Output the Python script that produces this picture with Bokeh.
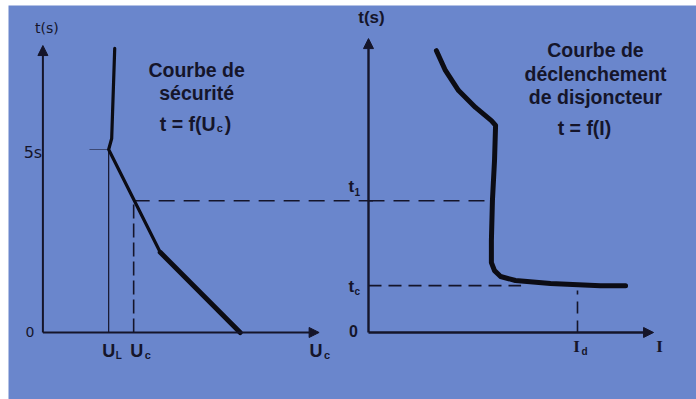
from bokeh.plotting import figure
from bokeh.models import Arrow, NormalHead, Label, Range1d
from bokeh.embed import file_html
from bokeh.resources import INLINE

# ---------------- data ----------------
# Left panel: safety curve t = f(Uc)
U_L = 50.0          # conventional limit voltage
U_C = 69.0          # contact voltage
T_5S = 5.0          # 5 s
T1 = 3.6            # time read on the safety curve for Uc
safety_u = [54.6, 52.3, 50.0, 89.2, 150.0]
safety_t = [7.76, 5.30, 5.00, 2.19, 0.0]

# Right panel: breaker tripping curve t = f(I)
TC = 1.28           # breaker clearing time
I_D = 10.0          # fault current
I_T1 = 5.9          # current where t1 meets the tripping curve
trip_i = [3.25, 3.68, 4.31, 5.12, 5.88, 6.08, 6.03, 5.93, 5.88, 5.88, 6.03, 6.32, 7.03, 8.71, 11.1, 12.3]
trip_t = [7.70, 7.16, 6.61, 6.15, 5.79, 5.66, 4.70, 3.61, 2.51, 1.91, 1.69, 1.53, 1.42, 1.34, 1.28, 1.28]

U_AXIS_END = 210.0
I_AXIS_END = 13.64
T_AXIS_END_L = 7.84
T_AXIS_END_R = 8.03

left_title = ["Courbe de", "sécurité"]
right_title = ["Courbe de", "déclenchement", "de disjoncteur"]

# ---------------- style ----------------
BG = "#6a86cc"
INK = "#15152a"
CURVE = "#0c0c14"
FONT = "DejaVu Sans"
BOLD = "Liberation Sans"
TS = 19.5

p = figure(width=696, height=399,
           x_range=Range1d(-26.154, 496.92), y_range=Range1d(-1.8306, 8.934),
           x_axis_type=None, y_axis_type=None, output_backend="svg",
           toolbar_location=None, min_border=0,
           min_border_left=8, min_border_top=5)
p.extra_x_ranges = {"i": Range1d(-17.225, 15.694)}
p.grid.visible = False
p.outline_line_color = None
p.background_fill_color = BG
p.border_fill_color = "white"


def lab(x, y, text, size, font=BOLD, align="center", baseline="middle",
        xo=0, yo=0, style="bold", rng="default"):
    p.add_layout(Label(x=x, y=y, text=text, text_font=font,
                       text_font_size=f"{size}px", text_align=align,
                       text_baseline=baseline, x_offset=xo, y_offset=yo,
                       text_color=INK, text_font_style=style, x_range_name=rng))


def axis_arrow(x0, y0, x1, y1, lw, rng="default"):
    p.add_layout(Arrow(end=NormalHead(size=10, fill_color=INK, line_color=INK, line_width=1),
                       x_start=x0, y_start=y0, x_end=x1, y_end=y1,
                       line_color=INK, line_width=lw, x_range_name=rng))


# ---------------- left panel ----------------
axis_arrow(0, 0, 0, T_AXIS_END_L, 2)
axis_arrow(0, 0, U_AXIS_END, 0, 2)

p.line([U_L, U_L], [0, T_5S], line_color=INK, line_width=1.2)
p.line([U_L - 14.6, U_L], [T_5S, T_5S], line_color=INK, line_width=1.2, line_alpha=0.55)
p.line([U_C, U_C], [0, T1], line_color=INK, line_width=1.6, line_dash="14 5")
p.line([U_C, U_AXIS_END + 41], [T1, T1], line_color=INK, line_width=1.6, line_dash="16 9")

p.line(safety_u, safety_t, line_color=CURVE, line_width=3.2,
       line_join="round", line_cap="round")
p.line(safety_u[3:], safety_t[3:], line_color=CURVE, line_width=5,
       line_join="round", line_cap="round")

lab(0, T_AXIS_END_L, "t(s)", 14, font=FONT, style="normal", xo=4, yo=18)
lab(0, T_5S, "5s", 16, font=FONT, style="normal", xo=-10, yo=-3)
lab(0, 0, "0", 14, font=FONT, style="normal", xo=-13)
lab(U_L, 0, "U", 18, yo=-19)
lab(U_L, 0, "L", 10, align="left", xo=7, yo=-23)
lab(U_C, 0, "U", 18, xo=3, yo=-19)
lab(U_C, 0, "c", 11, align="left", xo=11, yo=-23)
lab(U_AXIS_END, 0, "U", 18, xo=-3, yo=-19)
lab(U_AXIS_END, 0, "c", 11, align="left", xo=5, yo=-23)

TX_L = 116.9
lab(TX_L, 7.16, left_title[0], TS)
lab(TX_L, 6.53, left_title[1], TS)
lab(TX_L, 5.71, "t = f(U", TS, align="right", xo=19)
lab(TX_L, 5.71, "c", 11, align="left", xo=20, yo=-4)
lab(TX_L, 5.71, ")", TS, align="left", xo=28)

# ---------------- right panel ----------------
axis_arrow(0, 0, 0, T_AXIS_END_R, 2.4, rng="i")
axis_arrow(0, 0, I_AXIS_END, 0, 2.4, rng="i")

p.line([0, I_T1], [T1, T1], line_color=INK, line_width=1.6, line_dash="16 9", x_range_name="i")
p.line([0, 7.3], [TC, TC], line_color=INK, line_width=1.6, line_dash="13 7", x_range_name="i")
p.line([I_D, I_D], [0, 1.15], line_color=INK, line_width=1.6, line_dash="12 7", x_range_name="i")

p.line(trip_i, trip_t, line_color=CURVE, line_width=5,
       line_join="round", line_cap="round", x_range_name="i")

lab(0, T_AXIS_END_R, "t(s)", 17, xo=3, yo=21, rng="i")
lab(0, T1, "t", 17, align="left", xo=-20, yo=14, rng="i")
lab(0, T1, "1", 10, align="left", xo=-14, yo=9, rng="i")
lab(0, TC, "t", 17, align="left", xo=-20, yo=-1, rng="i")
lab(0, TC, "c", 10, align="left", xo=-14, yo=-6, rng="i")
lab(0, 0, "0", 16, xo=-15, yo=1, rng="i")
lab(I_D, 0, "I", 17, font="Liberation Serif", xo=-1, yo=-14, rng="i")
lab(I_D, 0, "d", 10, align="left", xo=4, yo=-19, rng="i")
lab(I_AXIS_END, 0, "I", 17, font="Liberation Serif", xo=6, yo=-14, rng="i")

TX_R = 10.86
lab(TX_R, 7.72, right_title[0], TS, rng="i")
lab(TX_R, 7.06, right_title[1], TS, rng="i")
lab(TX_R, 6.43, right_title[2], TS, rng="i")
lab(TX_R, 5.60, "t = f(I)", TS, xo=-11, rng="i")

open("out.html", "w").write(file_html(p, INLINE))
